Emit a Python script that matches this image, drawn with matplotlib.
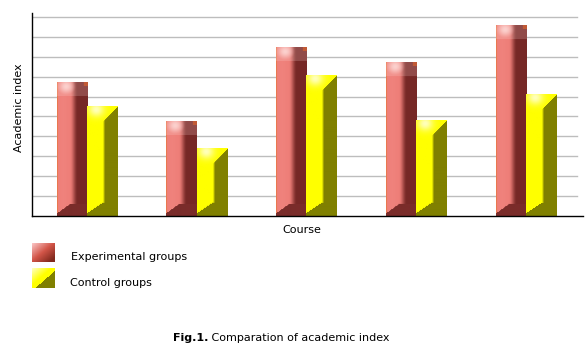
import numpy as np
import matplotlib
matplotlib.use("Agg")
import matplotlib.pyplot as plt

# ---- data ----
courses = ["1", "2", "3", "4", "5"]
experimental = [6.73, 4.77, 8.49, 7.69, 9.55]
control = [5.49, 3.38, 7.04, 4.79, 6.13]
series_labels = ["Experimental groups", "Control groups"]
x_label = "Course"
y_label = "Academic index"
caption_bold = "Fig.1."
caption_rest = " Comparation of academic index"

W, H = 586, 353
fig = plt.figure(figsize=(W / 100, H / 100), dpi=100)
fig.patch.set_facecolor("white")
ax_left, ax_w = 32, 551
ax = fig.add_axes([ax_left / W, 1 - 216 / H, ax_w / W, 203 / H])
ymax = 10.2
spacing = 109.75
xlim = (-0.5, -0.5 + ax_w / spacing)
ax.set_xlim(*xlim)
ax.set_ylim(0, ymax)
ppu = 203 / ymax  # pixels per data unit


def smooth(t):
    t = np.clip(t, 0, 1)
    return t * t * (3 - 2 * t)


def red_img(hpx, wpx=30):
    hpx = max(int(round(hpx)), 2)
    u = (np.arange(wpx) + 0.5) / wpx
    r = np.arange(hpx)[:, None].astype(float)
    v = hpx - 1 - r
    U = np.broadcast_to(u[None, :], (hpx, wpx))
    light = np.array([238, 126, 120.0])
    dark = np.array([118, 40, 38.0])
    sheen = (np.exp(-((U - 0.2) / 0.15) ** 2) * 0.12)[..., None]
    t = smooth((U - 0.42) / 0.25)[..., None]
    img = light * (1 - t) + dark * t
    img = img * (1 - sheen) + np.array([250, 160, 155.0]) * sheen
    # left orange edge
    edge = (U < 0.05)[..., None]
    img = np.where(edge, img * 0.45 + np.array([230, 115, 45.0]) * 0.55, img)
    # top cap
    cap = 14.0
    incap = r < cap
    w = np.exp(-((U - 0.3) / 0.25) ** 2 - ((r - 4) / 7.0) ** 2) * 0.9
    w = np.where(incap, np.maximum(w, 0.2), 0)[..., None]
    img = img * (1 - w) + np.array([253, 218, 215.0]) * w
    corner = (incap & (U > 0.85) & (r < 4))[..., None]
    img = np.where(corner, img * 0.4 + np.array([225, 100, 40.0]) * 0.6, img)
    # bottom triangle
    tri = ((v < 12) & (v < 2 + U / 0.45 * 10))[..., None]
    img = np.where(tri, dark + 4, img)
    return np.clip(img / 255.0, 0, 1)


def yellow_img(hpx, wpx=31):
    hpx = max(int(round(hpx)), 2)
    u = (np.arange(wpx) + 0.5) / wpx
    r = np.arange(hpx)[:, None].astype(float)
    v = hpx - 1 - r
    U = np.broadcast_to(u[None, :], (hpx, wpx))
    light = np.array([255, 255, 0.0])
    olive = np.array([128, 128, 0.0])
    t = smooth((U - 0.5) / 0.1)[..., None]
    img = light * (1 - t) + olive * t
    # top bevel
    bev = ((r < 15) & (r < (1 - U) / 0.48 * 15))[..., None]
    img = np.where(bev, light, img)
    w = (np.exp(-((U - 0.3) / 0.25) ** 2 - ((r - 3) / 7.0) ** 2) * 0.85)[..., None]
    img = img * (1 - w) + np.array([255, 255, 220.0]) * w
    # bottom triangle
    tri = ((v < 13) & (v < 2 + U / 0.52 * 11))[..., None]
    img = np.where(tri, olive, img)
    return np.clip(img / 255.0, 0, 1)


# gridlines
for g in range(1, 11):
    ax.axhline(g, xmin=0, xmax=545 / ax_w, color="#bdbdbd", lw=1, zorder=0)

xs = np.arange(len(courses))
bw = 0.275
bars_e = ax.bar(xs - bw / 2, experimental, bw, color="none", edgecolor="none")
bars_c = ax.bar(xs + bw / 2, control, bw, color="none", edgecolor="none")
for p in bars_e:
    img = red_img(p.get_height() * ppu)
    ax.imshow(img, extent=[p.get_x(), p.get_x() + p.get_width(), 0, p.get_height()],
              aspect="auto", interpolation="bilinear", zorder=2)
for p in bars_c:
    img = yellow_img(p.get_height() * ppu)
    ax.imshow(img, extent=[p.get_x(), p.get_x() + p.get_width(), 0, p.get_height()],
              aspect="auto", interpolation="bilinear", zorder=2)
ax.set_xlim(*xlim)
ax.set_ylim(0, ymax)

for s in ["top", "right"]:
    ax.spines[s].set_visible(False)
for s in ["left", "bottom"]:
    ax.spines[s].set_color("black")
    ax.spines[s].set_linewidth(1)
ax.set_xticks([])
ax.set_yticks([])

fs = 8
fig.text(302 / W, 1 - 230 / H, x_label, ha="center", va="center", fontsize=fs,
         family="DejaVu Sans")
fig.text(19 / W, 1 - 108 / H, y_label, ha="center", va="center", rotation=90,
         fontsize=fs, family="DejaVu Sans")


# legend swatches
def swatch_red(h=19, w=23):
    yy, xx = np.mgrid[0:h, 0:w]
    d = (xx / w + yy / h) / 2
    c1 = np.array([250, 195, 195.0]); c2 = np.array([210, 85, 72.0]); c3 = np.array([130, 42, 30.0])
    t1 = np.clip(d / 0.45, 0, 1)[..., None]
    t2 = np.clip((d - 0.45) / 0.4, 0, 1)[..., None]
    img = c1 * (1 - t1) + c2 * t1
    img = img * (1 - t2) + c3 * t2
    return img / 255


def swatch_yellow(h=20, w=23):
    yy, xx = np.mgrid[0:h, 0:w]
    d = (xx / w + yy / h) / 2
    c1 = np.array([255, 255, 190.0]); c2 = np.array([255, 255, 0.0]); c3 = np.array([128, 128, 0.0])
    t1 = np.clip(d / 0.4, 0, 1)[..., None]
    img = c1 * (1 - t1) + c2 * t1
    dark = (d > 0.55)[..., None]
    img = np.where(dark, c3, img)
    return img / 255


sw_axes = [(32, 243, 23, 19, swatch_red()), (32, 268, 23, 20, swatch_yellow())]
for (x0, y0, w0, h0, im) in sw_axes:
    sa = fig.add_axes([x0 / W, 1 - (y0 + h0) / H, w0 / W, h0 / H])
    sa.imshow(im, aspect="auto", interpolation="bilinear")
    sa.axis("off")

fig.text(71 / W, 1 - 257 / H, series_labels[0], ha="left", va="center", fontsize=fs,
         family="DejaVu Sans")
fig.text(70 / W, 1 - 283 / H, series_labels[1], ha="left", va="center", fontsize=fs,
         family="DejaVu Sans")

# caption
t1 = fig.text(173 / W, 1 - 338 / H, caption_bold, ha="left", va="center", fontsize=fs,
              fontweight="bold", family="DejaVu Sans")
fig.canvas.draw()
bb = t1.get_window_extent()
fig.text(bb.x1 / W, 1 - 338 / H, caption_rest, ha="left", va="center", fontsize=fs,
         family="DejaVu Sans")

fig.savefig("out.png", dpi=100, facecolor="white")
